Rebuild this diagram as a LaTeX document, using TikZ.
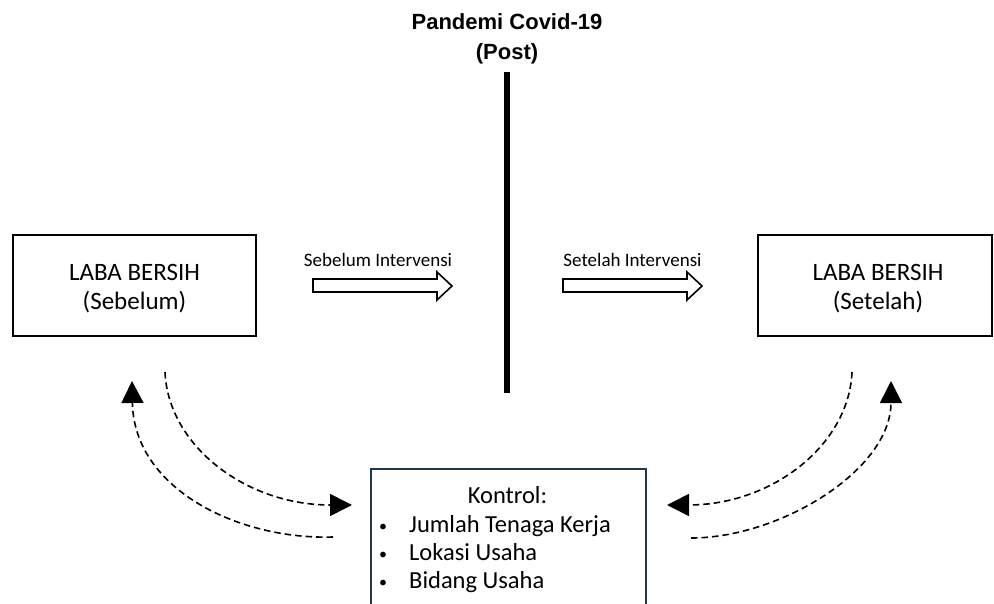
\documentclass[tikz,border=0pt]{standalone}
\usepackage{fontspec}
\setmainfont{Carlito}
\newfontfamily\titlefont{Liberation Sans}
\usetikzlibrary{arrows.meta}
\definecolor{ctrlblue}{RGB}{31,56,76}
\begin{document}
\begin{tikzpicture}[x=1pt,y=-1pt,
  labbox/.style={draw=black, line width=1.8pt, minimum height=101pt, inner sep=0pt},
  ctrlbox/.style={draw=ctrlblue, line width=1.6pt, minimum width=275pt, minimum height=160pt, inner sep=0pt, anchor=north west},
  boxtxt/.style={font=\fontsize{25}{28}\selectfont, anchor=base, inner sep=0pt},
  smalltxt/.style={font=\fontsize{19}{22}\selectfont, anchor=base, inner sep=0pt},
  ctrltxt/.style={font=\fontsize{24.5}{28}\selectfont, anchor=base west, inner sep=0pt},
  bul/.style={font=\fontsize{16}{20}\selectfont, anchor=base, inner sep=0pt},
  titletxt/.style={font=\titlefont\bfseries\fontsize{22}{26}\selectfont, anchor=base, inner sep=0pt},
  dashcurve/.style={line width=1.6pt, dash pattern=on 6.5pt off 4pt, -{Triangle[length=22pt,width=22pt]}},
  hollow/.style={draw=black, line width=1.6pt, fill=white, line join=miter},
  divider/.style={line width=6pt}
]
\useasboundingbox (0,0) rectangle (994,604);
\clip (0,0) rectangle (994,604);

% title
\node[titletxt] (t1) at (507,30) {Pandemi Covid-19};
\node[titletxt] (t2) at (507,60) {(Post)};

% divider line
\coordinate (dtop) at (507,72);
\coordinate (dbot) at (507,393);
\draw[divider] (dtop) -- (dbot);

% boxes
\node[labbox, minimum width=243pt] (before) at (134.5,285.5) {};
\node[boxtxt] (b1) at (134.5,281) {LABA BERSIH};
\node[boxtxt] (b2) at (134.5,309) {(Sebelum)};

\node[labbox, minimum width=234pt] (after) at (875,285.5) {};
\node[boxtxt] (a1) at (878,281) {LABA BERSIH};
\node[boxtxt] (a2) at (878,309) {(Setelah)};

% hollow arrows and labels
\node[smalltxt] (l1) at (378,267) {Sebelum Intervensi};
\draw[hollow] (313,279) -- (437,279) -- (437,272) -- (452,286) -- (437,300) -- (437,292) -- (313,292) -- cycle;
\node[smalltxt] (l2) at (632.5,267) {Setelah Intervensi};
\draw[hollow] (563,279) -- (687,279) -- (687,272) -- (702,286) -- (687,300) -- (687,292) -- (563,292) -- cycle;

% control box
\node[ctrlbox] (kontrol) at (370,468) {};
\node[boxtxt, font=\fontsize{24.5}{28}\selectfont] (k0) at (507.5,503) {Kontrol:};
\node[bul] (d1) at (383,531) {•};
\node[ctrltxt] (k1) at (409,532) {Jumlah Tenaga Kerja};
\node[bul] (d2) at (383,559) {•};
\node[ctrltxt] (k2) at (409,560) {Lokasi Usaha};
\node[bul] (d3) at (383,587) {•};
\node[ctrltxt] (k3) at (409,588) {Bidang Usaha};

% dashed curved connectors
\coordinate (c1s) at (165,372);
\coordinate (c1e) at (352,505);
\draw[dashcurve] (c1s) .. controls (168,445) and (245,505) .. (c1e);
\coordinate (c2s) at (333,537);
\coordinate (c2e) at (132,381);
\draw[dashcurve] (c2s) .. controls (240,540) and (134,490) .. (c2e);
\coordinate (c3s) at (852,372);
\coordinate (c3e) at (667,505);
\draw[dashcurve] (c3s) .. controls (849,445) and (772,505) .. (c3e);
\coordinate (c4s) at (691,538);
\coordinate (c4e) at (891,381);
\draw[dashcurve] (c4s) .. controls (780,538) and (891,470) .. (c4e);
\end{tikzpicture}
\end{document}
